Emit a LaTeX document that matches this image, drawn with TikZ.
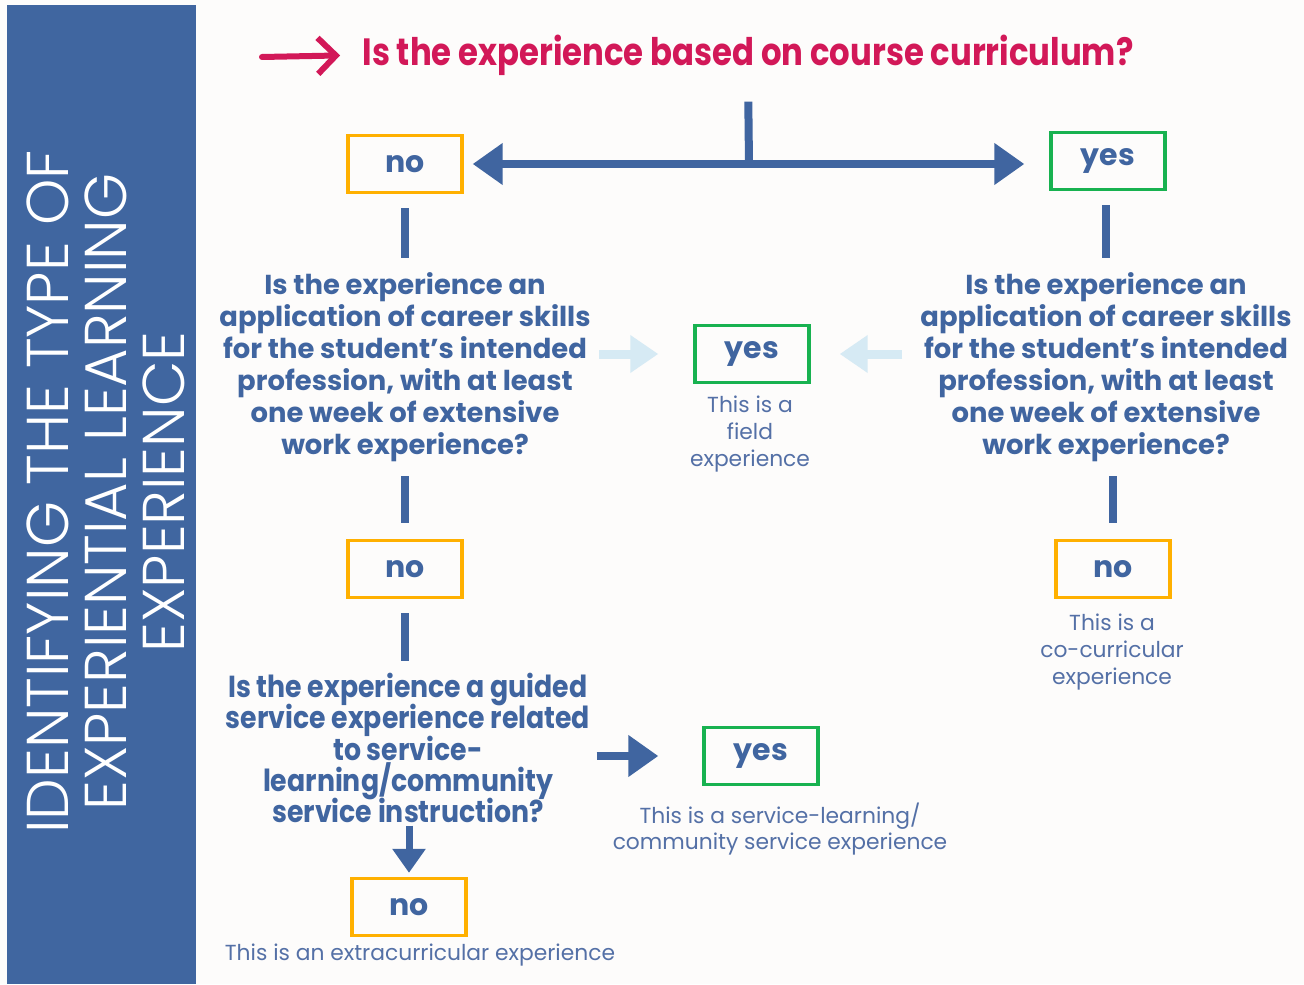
\documentclass[tikz,border=0pt]{standalone}
\usepackage{fontspec}
\setmainfont{Poppins}
\newfontfamily\condfont[FakeStretch=0.85]{Poppins}
\newfontfamily\servfont[FakeStretch=0.88]{Poppins}
\newfontfamily\lightfont[UprightFont=* Light]{Poppins}
\newcommand\tightlines{\lineskiplimit=-20pt\relax}
\usetikzlibrary{arrows.meta}

\definecolor{paper}{RGB}{253,252,251}
\definecolor{sidebar}{RGB}{64,102,160}
\definecolor{bluetext}{RGB}{64,101,160}
\definecolor{bluenote}{RGB}{84,112,166}
\definecolor{orangeline}{RGB}{255,176,0}
\definecolor{greenline}{RGB}{24,178,80}
\definecolor{crimson}{RGB}{210,24,88}
\definecolor{paleblue}{RGB}{214,234,244}

\begin{document}
\begin{tikzpicture}[x=0.5pt, y=-0.5pt]
	\tikzstyle{nobox} = [draw=orangeline, line width=1.7pt, minimum width=57pt, minimum height=28.5pt, text=bluetext, font=\bfseries\fontsize{15}{15}\selectfont]
	\tikzstyle{yesbox} = [nobox, draw=greenline]
	\tikzstyle{question} = [align=center, text=bluetext, inner sep=2pt, font=\bfseries\fontsize{13.7}{16}\selectfont]
	\tikzstyle{note} = [align=center, text=bluenote, inner sep=2pt, font=\fontsize{10.9}{13.3}\selectfont]
	\tikzstyle{bar} = [draw=bluetext, line width=4pt]
	\tikzstyle{fat} = [bar, -{Triangle[length=15pt, width=20pt]}]
	\tikzstyle{pale} = [draw=paleblue, line width=4.5pt, -{Triangle[length=14pt, width=18pt]}]
	\useasboundingbox (0,0) rectangle (1304,984);
	\fill[paper] (0,0) rectangle (1304,984);
	\fill[sidebar] (7,5) rectangle (196,984);
	\node[rotate=90, align=center, text=white, font=\lightfont\fontsize{29.5}{29}\selectfont] (title) at (106,492) {IDENTIFYING THE TYPE OF\\EXPERIENTIAL LEARNING\\EXPERIENCE};
	\node[text=crimson, inner sep=0pt, font=\condfont\bfseries\fontsize{19}{19}\selectfont] (curric) at (748,55) {Is the experience based on course curriculum?};
	\coordinate (start) at (262,57);
	\coordinate (split) at (749,164);
	\node[nobox] (no1) at (405,164) {no};
	\node[yesbox] (yes1) at (1108,161) {yes};
	\node[question] (skillsL) at (405,367) {Is the experience an\\application of career skills\\for the student’s intended\\profession, with at least\\one week of extensive\\work experience?};
	\node[question] (skillsR) at (1106,367) {Is the experience an\\application of career skills\\for the student’s intended\\profession, with at least\\one week of extensive\\work experience?};
	\node[yesbox] (field) at (752,354) {yes};
	\node[note] (fieldtxt) at (750,434) {This is a\\field\\experience};
	\node[nobox] (no2) at (405,569) {no};
	\node[nobox] (cocurr) at (1113,569) {no};
	\node[note] (cotxt) at (1112,652) {This is a\\co-curricular\\experience};
	\node[question, inner sep=1pt, font=\servfont\bfseries\fontsize{15.2}{15.7}\selectfont\tightlines] (service) at (408,748) {Is the experience a guided\\service experience related\\to service-\\learning/community\\service instruction?};
	\node[yesbox] (slyes) at (761,756) {yes};
	\node[note] (sltxt) at (780,829) {This is a service-learning/\\community service experience};
	\node[nobox] (no3) at (409,907) {no};
	\node[note] (extxt) at (420,955) {This is an extracurricular experience};
	\draw[crimson, line width=3pt, line cap=round, shorten >=11pt, -{Straight Barb[length=9pt, width=18pt, line width=3pt]}] (start) -- (curric.west);
	\draw[bar, shorten <=13pt] (curric.south) -- (split);
	\draw[fat, shorten >=4.5pt] (split) -- (no1);
	\draw[fat, shorten >=12.5pt] (split) -- (split -| yes1.west);
	\draw[bar, shorten <=7pt, shorten >=5pt] (no1.south) -- (no1.south |- skillsL.north);
	\draw[bar, shorten <=7pt, shorten >=5pt] (yes1.south -| skillsR) -- (skillsR.north);
	\draw[pale, shorten <=2pt, shorten >=17.5pt] (skillsL.east |- field) -- (field.west);
	\draw[pale, shorten <=7pt, shorten >=14.5pt] (skillsR.west |- field) -- (field.east);
	\draw[bar, shorten <=5pt, shorten >=8pt] (no2.north |- skillsL.south) -- (no2.north);
	\draw[bar, shorten <=5pt, shorten >=8pt] (cocurr.north |- skillsR.south) -- (cocurr.north);
	\draw[bar, shorten <=7pt, shorten >=5pt] (no2.south) -- (no2.south |- service.north);
	\draw[fat, shorten <=2pt, shorten >=22pt] (service.east |- slyes) -- (slyes.west);
	\draw[bar, line width=3.5pt, shorten >=2pt, -{Triangle[length=12pt, width=16pt]}] (service.south -| no3) -- (no3.north);
\end{tikzpicture}
\end{document}
